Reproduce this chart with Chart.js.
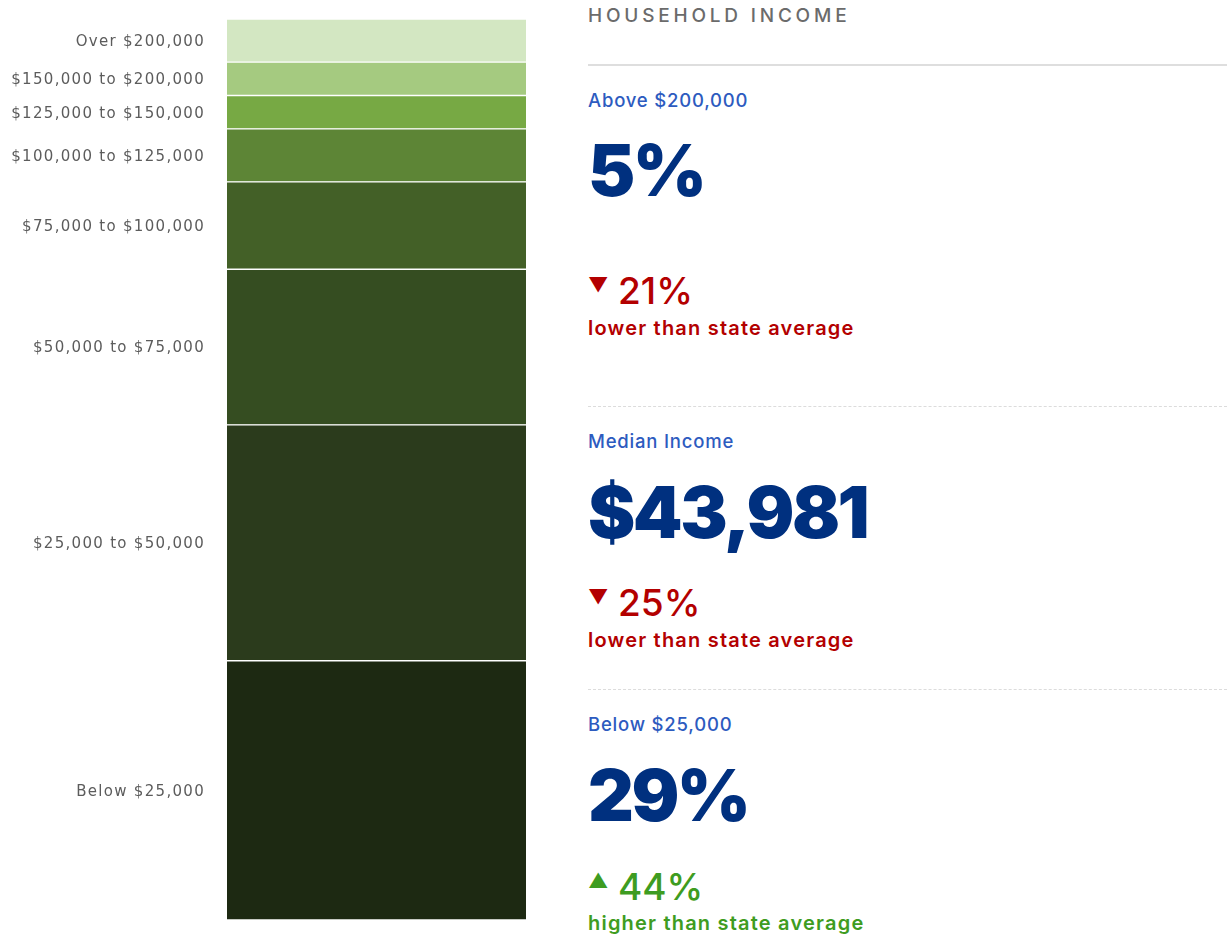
<!DOCTYPE html>
<html lang="en">
<head>
    <meta charset="UTF-8">
    <title>Household Income</title>
    <script src="https://cdn.jsdelivr.net/npm/chart.js"></script>
    <style>
        body { margin: 0; background: #fff; width: 1230px; height: 937px; position: relative; overflow: hidden; }
        #incomeChart { position: absolute; left: 0; top: 0; }
        .panel { position: absolute; left: 588px; top: 0; width: 639px; height: 937px; font-family: Inter, sans-serif; }
        .panel div { position: absolute; left: 0; white-space: nowrap; }
        .heading { top: 4px; height: 24px; line-height: 24px; font-size: 19px; font-weight: 500; color: #6b6b6b; letter-spacing: 3.8px; }
        .rule { height: 0; width: 639px; border-top: 2px solid #dedede; }
        .rule.dash { border-top: 1px dashed #dcdcdc; }
        .title { height: 24px; line-height: 24px; font-size: 18.5px; font-weight: 500; color: #2d5bbf; letter-spacing: 0.8px; }
        .big { height: 80px; line-height: 80px; font-size: 71px; font-weight: 900; color: #00307f; letter-spacing: -2.5px; }
        .delta { height: 40px; line-height: 40px; font-size: 37px; font-weight: 500; }
        .delta span.tri { display: inline-block; width: 30px; font-size: 20px; vertical-align: top; line-height: 28px; }
        .note { height: 24px; line-height: 24px; font-size: 20px; font-weight: 600; letter-spacing: 1.2px; }
        .down { color: #b30000; }
        .up { color: #3e9c21; }
    </style>
</head>
<body>
    <canvas id="incomeChart" width="560" height="937"></canvas>

    <!-- text panel on the right -->
    <div class="panel">
        <div class="heading">HOUSEHOLD INCOME</div>
        <div class="rule" style="top:64px"></div>

        <div class="title" style="top:88px">Above $200,000</div>
        <div class="big" style="top:130px">5%</div>
        <div class="delta down" style="top:271px"><span class="tri">&#9660;</span>21%</div>
        <div class="note down" style="top:316px">lower than state average</div>

        <div class="rule dash" style="top:406px"></div>

        <div class="title" style="top:429px">Median Income</div>
        <div class="big" style="top:472px">$43,981</div>
        <div class="delta down" style="top:583px"><span class="tri">&#9660;</span>25%</div>
        <div class="note down" style="top:628px">lower than state average</div>

        <div class="rule dash" style="top:689px"></div>

        <div class="title" style="top:712px">Below $25,000</div>
        <div class="big" style="top:755px">29%</div>
        <div class="delta up" style="top:867px"><span class="tri">&#9650;</span>44%</div>
        <div class="note up" style="top:911px">higher than state average</div>
    </div>

    <script>
        // income brackets, bottom of the bar first
        var brackets = ['Below $25,000', '$25,000 to $50,000', '$50,000 to $75,000', '$75,000 to $100,000',
                        '$100,000 to $125,000', '$125,000 to $150,000', '$150,000 to $200,000', 'Over $200,000'];
        // share of households (%)
        var shares = [28.8, 26.2, 17.3, 9.7, 5.9, 3.7, 3.7, 4.8];
        var greens = ['#1d2912', '#2b3b1c', '#354d21', '#436027', '#5d8536', '#77a944', '#a5ca80', '#d3e7c2'];

        var total = shares.reduce(function(a, b) { return a + b; }, 0);

        var datasets = brackets.map(function(name, i) {
            return {
                label: name,
                data: [shares[i]],
                backgroundColor: greens[i],
                borderColor: '#ffffff',
                borderWidth: { top: 1, bottom: 1, left: 0, right: 0 },
                borderSkipped: false,
                barPercentage: 1,
                categoryPercentage: 1
            };
        });

        // draws the bracket names to the left of each segment
        var bracketLabels = {
            id: 'bracketLabels',
            afterDatasetsDraw: function(chart) {
                var ctx = chart.ctx;
                ctx.save();
                ctx.font = '15px "DejaVu Sans"';
                ctx.letterSpacing = '1.3px';
                ctx.fillStyle = '#5c5c5c';
                ctx.textAlign = 'right';
                ctx.textBaseline = 'middle';
                chart.data.datasets.forEach(function(ds, i) {
                    var bar = chart.getDatasetMeta(i).data[0];
                    var mid = (bar.y + bar.base) / 2;
                    ctx.fillText(ds.label, chart.chartArea.left - 22, mid + 1.5);
                });
                ctx.restore();
            }
        };

        var ctx = document.getElementById('incomeChart').getContext('2d');
        var incomeChart = new Chart(ctx, {
            type: 'bar',
            data: { labels: ['Households'], datasets: datasets },
            options: {
                responsive: false,
                animation: false,
                layout: { padding: { left: 227, right: 34, top: 19, bottom: 17 } },
                plugins: { legend: { display: false }, tooltip: { enabled: false } },
                scales: {
                    x: { stacked: true, display: false },
                    y: { stacked: true, display: false, min: 0, max: total }
                }
            },
            plugins: [bracketLabels]
        });
    </script>
</body>
</html>
